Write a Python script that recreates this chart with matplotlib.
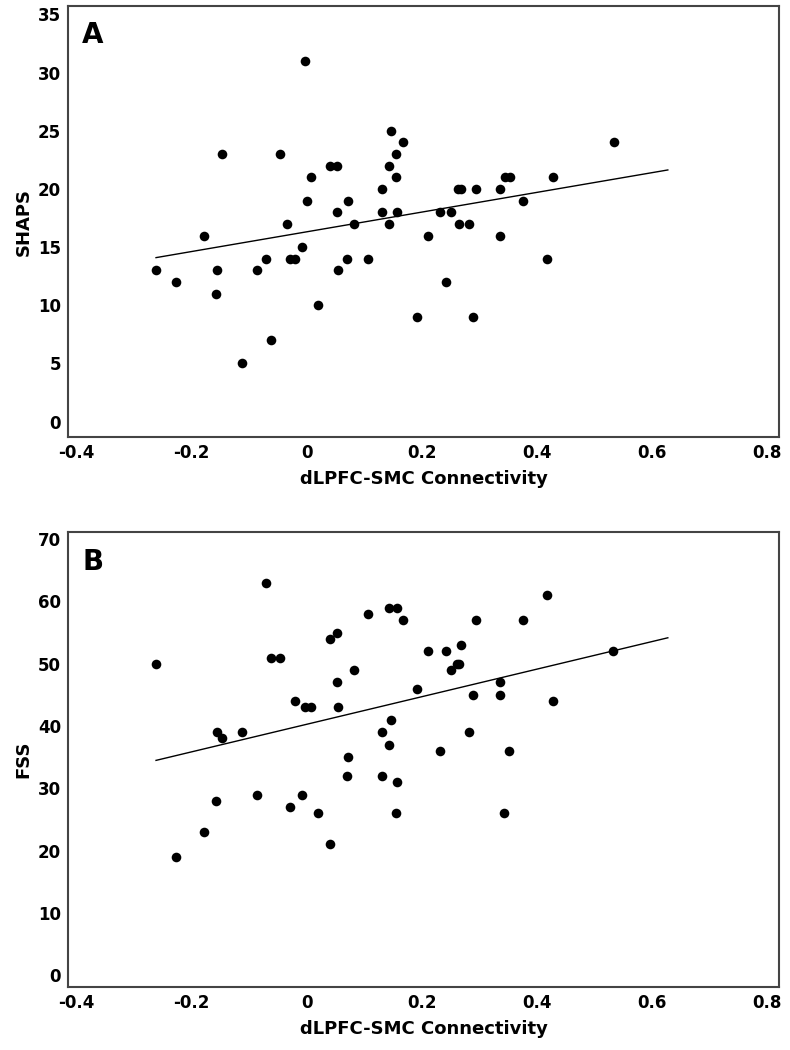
import numpy as np
import matplotlib
matplotlib.use('Agg')
from matplotlib import pyplot as plt

plt.rcParams['font.family'] = ['DejaVu Sans']
plt.rcParams['font.weight'] = 'bold'

# panel A: connectivity vs SHAPS
conn_a = [-0.262, -0.228, -0.179, -0.156, -0.158, -0.147, -0.112, -0.086, -0.071, -0.062,
          -0.046, -0.035, -0.029, -0.021, -0.008, -0.003, 0.001, 0.007, 0.019, 0.040,
          0.052, 0.053, 0.054, 0.070, 0.072, 0.082, 0.106, 0.131, 0.131, 0.142,
          0.142, 0.147, 0.154, 0.154, 0.157, 0.167, 0.191, 0.210, 0.231, 0.242,
          0.251, 0.262, 0.264, 0.268, 0.282, 0.288, 0.294, 0.335, 0.335, 0.345,
          0.352, 0.376, 0.417, 0.428, 0.533]
shaps = [13, 12, 16, 13, 11, 23, 5, 13, 14, 7,
         23, 17, 14, 14, 15, 31, 19, 21, 10, 22,
         22, 18, 13, 14, 19, 17, 14, 20, 18, 22,
         17, 25, 23, 21, 18, 24, 9, 16, 18, 12,
         18, 20, 17, 20, 17, 9, 20, 20, 16, 21,
         21, 19, 14, 21, 24]

# panel B: connectivity vs FSS
conn_b = [-0.262, -0.228, -0.179, -0.156, -0.158, -0.147, -0.112, -0.086, -0.071, -0.062,
          -0.046, -0.029, -0.021, -0.008, -0.003, 0.008, 0.019, 0.040, 0.041, 0.052,
          0.053, 0.054, 0.070, 0.072, 0.082, 0.106, 0.131, 0.131, 0.142, 0.142,
          0.147, 0.154, 0.156, 0.156, 0.167, 0.191, 0.210, 0.231, 0.242, 0.251,
          0.260, 0.265, 0.267, 0.281, 0.288, 0.294, 0.335, 0.335, 0.343, 0.351,
          0.376, 0.417, 0.428, 0.532]
fss = [50, 19, 23, 39, 28, 38, 39, 29, 63, 51,
       51, 27, 44, 29, 43, 43, 26, 21, 54, 55,
       47, 43, 32, 35, 49, 58, 39, 32, 59, 37,
       41, 26, 59, 31, 57, 46, 52, 36, 52, 49,
       50, 50, 53, 39, 45, 57, 47, 45, 26, 36,
       57, 61, 44, 52]

x_ticks = [-0.4, -0.2, 0, 0.2, 0.4, 0.6, 0.8]
x_ticklabels = ['-0.4', '-0.2', '0', '0.2', '0.4', '0.6', '0.8']
fit_end = 0.627

fig = plt.figure(figsize=(7.9, 10.5), dpi=100)
ax1 = fig.add_axes([0.086, 0.584, 0.900, 0.410])
ax2 = fig.add_axes([0.086, 0.060, 0.900, 0.433])


def panel(ax, x, y, yticks, ylim, ylabel, letter):
    x = np.array(x)
    y = np.array(y)
    ax.scatter(x, y, s=48, color='black', zorder=3, linewidths=0)
    k, b = np.polyfit(x, y, 1)
    xl = np.array([x.min(), fit_end])
    ax.plot(xl, k * xl + b, color='black', lw=1.0)
    ax.set_xlim(-0.415, 0.82)
    ax.set_ylim(*ylim)
    ax.set_xticks(x_ticks)
    ax.set_xticklabels(x_ticklabels)
    ax.set_yticks(yticks)
    ax.tick_params(length=0, labelsize=12, pad=5)
    for lab in ax.get_xticklabels() + ax.get_yticklabels():
        lab.set_fontweight('bold')
    for sp in ax.spines.values():
        sp.set_color('#444444')
        sp.set_linewidth(1.5)
    ax.set_xlabel('dLPFC-SMC Connectivity', fontsize=13, fontweight='bold', labelpad=6)
    ax.set_ylabel(ylabel, fontsize=13, fontweight='bold', labelpad=4)
    ax.text(0.02, 0.965, letter, transform=ax.transAxes, fontsize=20,
            fontweight='bold', va='top', ha='left')


panel(ax1, conn_a, shaps, range(0, 36, 5), (-1.3, 35.7), 'SHAPS', 'A')
panel(ax2, conn_b, fss, range(0, 71, 10), (-1.9, 71.1), 'FSS', 'B')

fig.savefig('out.png', dpi=100)
